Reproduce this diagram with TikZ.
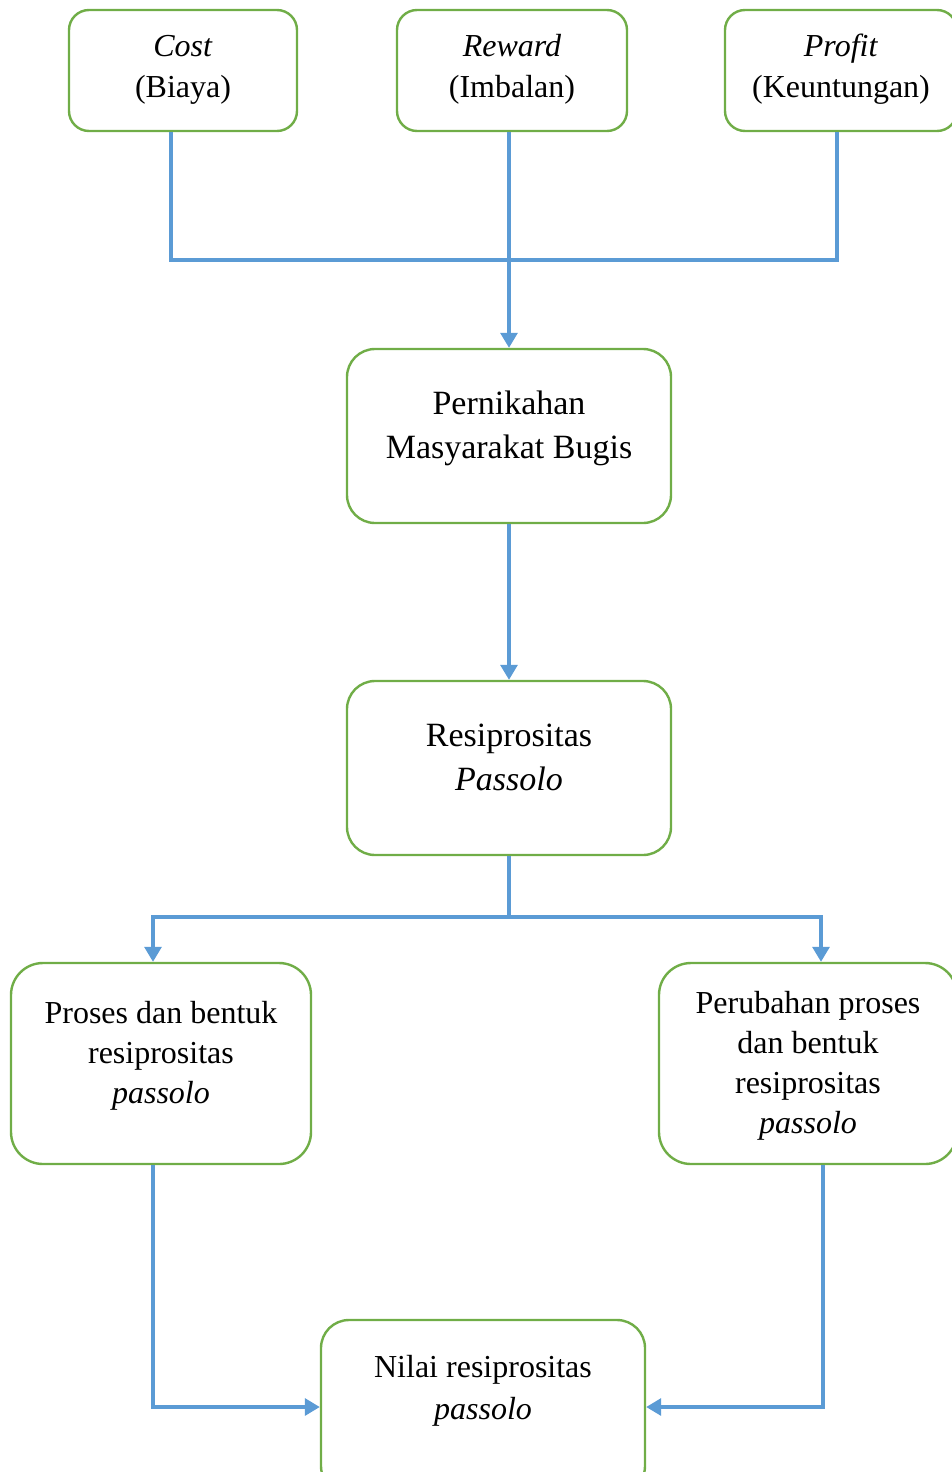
\documentclass[tikz,border=0pt]{standalone}
\usepackage{fontspec}
\setmainfont{Liberation Serif}
\usetikzlibrary{arrows.meta}
\definecolor{boxgreen}{HTML}{70AD47}
\definecolor{lineblue}{HTML}{5B9BD5}
\tikzset{
box/.style={draw=boxgreen, line width=1.2pt, rounded corners=14pt, inner sep=0pt},
topbox/.style={box, rounded corners=10pt, minimum height=60.5pt, font=\fontsize{16}{20.5}\selectfont},
midbox/.style={box, minimum width=162pt, minimum height=87pt, font=\fontsize{17}{22}\selectfont},
sidebox/.style={box, rounded corners=16pt, minimum height=100.5pt, font=\fontsize{16}{20}\selectfont},
link/.style={draw=lineblue, line width=1.6pt},
arr/.style={link, -{Triangle[width=8.5pt,length=7.5pt]}},
}
\newcommand{\liftbox}[2]{\raisebox{#1}[\height][\depth]{\begin{tabular}{@{}c@{}}#2\end{tabular}}}

\begin{document}
\begin{tikzpicture}[x=0.5pt,y=-0.5pt]
\useasboundingbox (0,0) rectangle (952,1472);

    \node[topbox, minimum width=114pt] (cost) at (183,70.5) {\liftbox{1pt}{\textit{Cost}\\(Biaya)}};
    \node[topbox, minimum width=115pt] (reward) at (512,70.5) {\liftbox{1pt}{\textit{Reward}\\(Imbalan)}};
    \node[topbox, minimum width=116pt] (profit) at (841,70.5) {\liftbox{1pt}{\textit{Profit}\\(Keuntungan)}};

    \node[midbox] (nikah) at (509,436) {\liftbox{4pt}{Pernikahan\\Masyarakat Bugis}};
    \node[midbox] (passolo) at (509,768) {\liftbox{4pt}{Resiprositas\\\textit{Passolo}}};

    \node[sidebox, minimum width=150pt] (proses) at (161,1063.5) {\liftbox{4pt}{Proses dan bentuk\\resiprositas\\\textit{passolo}}};
    \node[sidebox, minimum width=149pt] (perubahan) at (808,1063.5) {\liftbox{-1pt}{Perubahan proses\\dan bentuk\\resiprositas\\\textit{passolo}}};

    \node[midbox, font=\fontsize{16}{21}\selectfont] (nilai) at (483,1407) {\liftbox{8.5pt}{Nilai resiprositas\\\textit{passolo}}};

    \coordinate (mergeL) at (171,260);
    \coordinate (mergeR) at (837,260);
    \coordinate (splitL) at (153,917);
    \coordinate (splitR) at (821,917);

    \draw[link] ([xshift=-6pt]cost.south) -- (mergeL) -- (mergeR) -- ([xshift=-2pt]profit.south);
    \draw[arr] (reward.south -| nikah.north) -- (nikah.north);
    \draw[arr] (nikah.south) -- (passolo.north);
    \draw[arr] (passolo.south) |- (splitL) -- (splitL |- proses.north);
    \draw[arr] (passolo.south) |- (splitR) -- (splitR |- perubahan.north);
    \draw[arr] ([xshift=-4pt]proses.south) |- (nilai.west);
    \draw[arr] ([xshift=7.5pt]perubahan.south) |- (nilai.east);
\end{tikzpicture}
\end{document}
